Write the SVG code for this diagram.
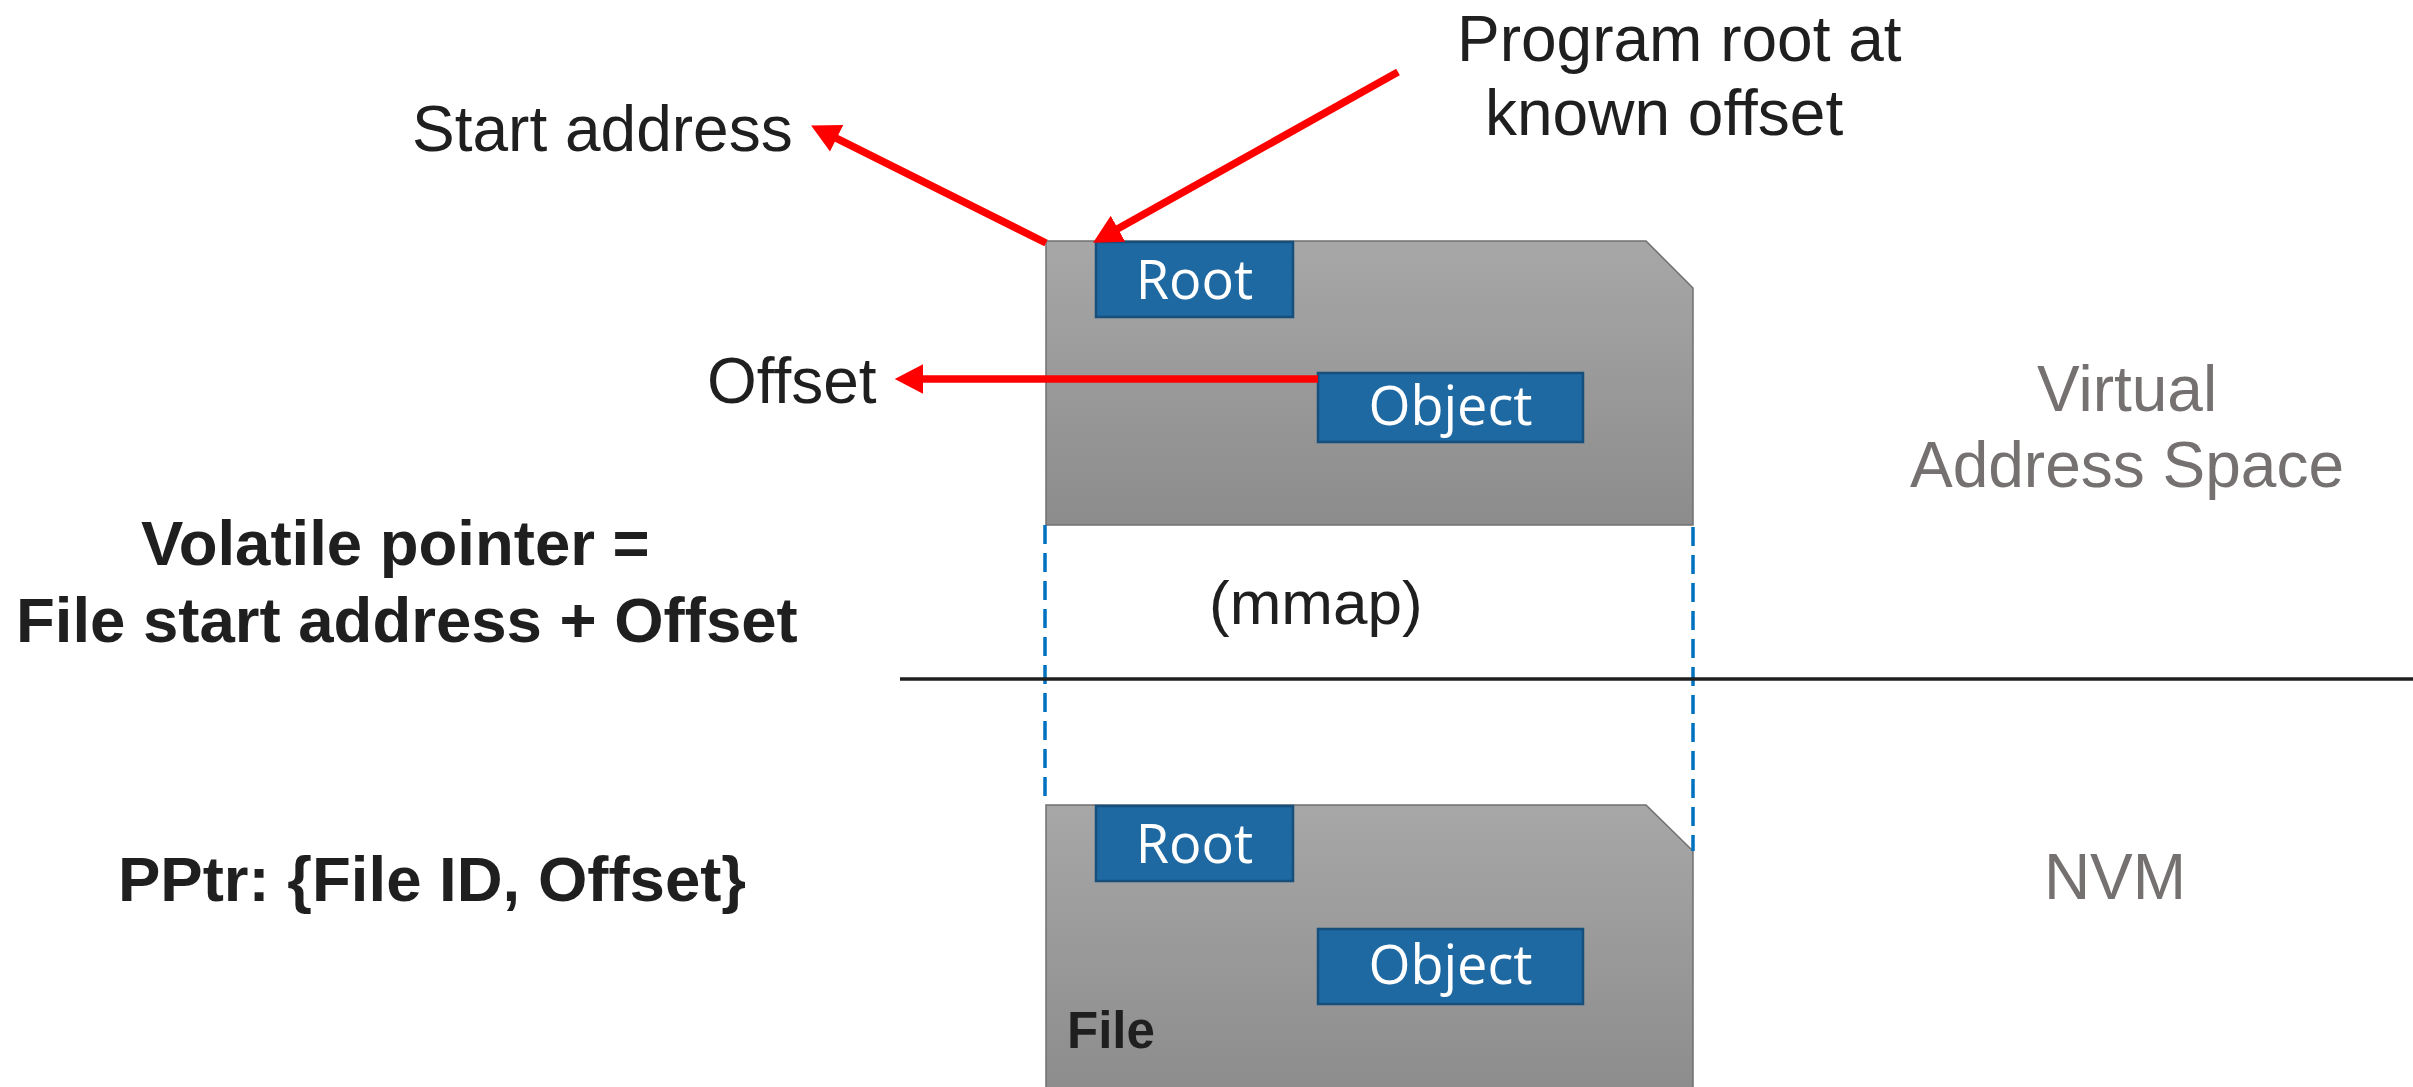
<svg xmlns="http://www.w3.org/2000/svg" width="2413" height="1087" viewBox="0 0 2413 1087">
  <style>
    .lbl { font-family: "Liberation Sans", Arial, sans-serif; font-size: 64px; fill: #1f1f1f; }
    .bold { font-family: "Liberation Sans", Arial, sans-serif; font-weight: bold; font-size: 63.5px; fill: #1f1f1f; }
    .side { font-family: "Liberation Sans", Arial, sans-serif; font-size: 64px; fill: #767171; text-anchor: middle; }
    .file { fill: url(#grayGrad); stroke: #707070; stroke-width: 1.5; }
    .box { fill: #1e69a2; stroke: #174f7c; stroke-width: 2.5; }
    .boxtxt { font-family: "Open Sans", "Noto Sans", sans-serif; font-size: 54px; fill: #ffffff; text-anchor: middle; }
    .arrow { stroke: #ff0000; stroke-width: 7.5; fill: none; marker-end: url(#head); }
    .dash { stroke: #0070c0; stroke-width: 3.5; stroke-dasharray: 19 9; fill: none; }
  </style>
  <defs>
    <linearGradient id="grayGrad" x1="0" y1="0" x2="0" y2="1">
      <stop offset="0" stop-color="#a6a7a6"/>
      <stop offset="1" stop-color="#8b8c8b"/>
    </linearGradient>
    <marker id="head" markerUnits="userSpaceOnUse" markerWidth="32" markerHeight="32" viewBox="0 -14 28 28" refX="2" refY="0" orient="auto">
      <path d="M0,-13 L25,0 L0,13 Z" fill="#ff0000"/>
    </marker>
  </defs>

  <rect width="2413" height="1087" fill="#ffffff"/>

  <g id="file-virtual">
    <path class="file" d="M1046,241 L1646,241 L1693,288 L1693,525 L1046,525 Z"/>
  </g>
  <g id="root-virtual">
    <rect class="box" x="1096" y="242" width="197" height="75"/>
    <text class="boxtxt" x="1194.5" y="299">Root</text>
  </g>
  <g id="object-virtual">
    <rect class="box" x="1318" y="373" width="265" height="69"/>
    <text class="boxtxt" x="1450.5" y="425">Object</text>
  </g>

  <g id="file-nvm">
    <path class="file" d="M1046,805 L1646,805 L1693,851 L1693,1095 L1046,1095 Z"/>
    <text x="1067" y="1048" style="font-family: 'Liberation Sans', Arial, sans-serif; font-weight: bold; font-size: 51px; fill: #1f1f1f;">File</text>
  </g>
  <g id="root-nvm">
    <rect class="box" x="1096" y="806" width="197" height="75"/>
    <text class="boxtxt" x="1194.5" y="863">Root</text>
  </g>
  <g id="object-nvm">
    <rect class="box" x="1318" y="929" width="265" height="75"/>
    <text class="boxtxt" x="1450.5" y="984">Object</text>
  </g>

  <g id="connectors">
    <line class="dash" x1="1045" y1="525" x2="1045" y2="805"/>
    <line class="dash" x1="1693" y1="527" x2="1693" y2="851"/>
    <line x1="900" y1="679" x2="2413" y2="679" stroke="#1f1f1f" stroke-width="3.5"/>
    <line class="arrow" x1="1046" y1="243" x2="834.6" y2="137.3"/>
    <line class="arrow" x1="1398" y1="72" x2="1116" y2="229.8"/>
    <line class="arrow" x1="1318" y1="379" x2="921" y2="379"/>
  </g>

  <g id="labels">
    <text class="lbl" x="412" y="150.5">Start address</text>
    <text class="lbl" x="1457" y="61">Program root at</text>
    <text class="lbl" x="1485" y="135">known offset</text>
    <text class="lbl" x="707" y="403">Offset</text>
    <text class="lbl" x="1209" y="624" style="font-size:62px">(mmap)</text>
    <text class="bold" x="141" y="565">Volatile pointer =</text>
    <text class="bold" x="16" y="641.5">File start address + Offset</text>
    <text class="bold" x="118" y="901">PPtr: {File ID, Offset}</text>
    <text class="side" x="2127" y="411">Virtual</text>
    <text class="side" x="2127" y="487">Address Space</text>
    <text class="side" x="2115" y="899">NVM</text>
  </g>
</svg>
